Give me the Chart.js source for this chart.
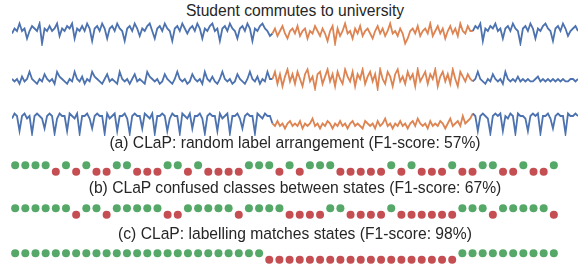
<!DOCTYPE html>
<html>
<head>
<meta charset="utf-8">
<script src="https://cdn.jsdelivr.net/npm/chart.js"></script>
<style>
  body { margin: 0; background: #fff; }
  #wrap { position: relative; width: 578px; height: 271px; overflow: hidden; font-family: "Liberation Sans", Arial, sans-serif; color: #262626; }
  .txt { position: absolute; left: 10px; width: 570px; text-align: center; font-size: 15.65px; line-height: 18px; white-space: nowrap; }
  canvas { position: absolute; }
</style>
</head>
<body>
<div id="wrap">
  <div class="txt" style="top:2px">Student commutes to university</div>
  <canvas id="line1" width="566" height="25" style="left:12px;top:21px"></canvas>
  <canvas id="line2" width="566" height="24" style="left:12px;top:67px"></canvas>
  <canvas id="line3" width="566" height="25" style="left:12px;top:111px"></canvas>
  <div class="txt" style="top:134px">(a) CLaP: random label arrangement (F1-score: 57%)</div>
  <canvas id="dotsA" width="567" height="27" style="left:1px;top:155px"></canvas>
  <div class="txt" style="top:179px">(b) CLaP confused classes between states (F1-score: 67%)</div>
  <canvas id="dotsB" width="567" height="27" style="left:1px;top:198px"></canvas>
  <div class="txt" style="top:225px">(c) CLaP: labelling matches states (F1-score: 98%)</div>
  <canvas id="dotsC" width="567" height="27" style="left:1px;top:243px"></canvas>
</div>
<script>
// couleurs (palette seaborn "deep")
const blue = '#4c72b0';
const orange = '#dd8452';
const green = '#55a868';
const red = '#c44e52';

// série 1 : marche / transport / marche
const line1Blue1 = [5,7,6,9,6, 7,3,6,8,7, 6,9,1,7,6, 8,6,7,9,4, 7,6,8,7,9,
  3,7,6,8,6, 9,7,2,7,8, 6,9,7,3,7, 8,6,9,7,6, 2,7,8,6,9,
  7,4,7,6,8, 9,6,3,7,8, 6,9,7,6,2, 7,8,6,9,7, 5,7,8,6,9,
  7,3,7,6,8, 9,6,7,2,7, 8,6,9,7,6, 3,7,8,6,9, 7,2,7,6,8, 9,7,6,4];
const line1Orange = [5,7,4,6,8,5,3,6,7,5, 8,4,6,7,3,6,5,8,6,4,
  7,5,2,6,8,1,7,4,6,9, 5,6,3,7,5,8,4,6,7,5,
  3,6,8,5,7,4,6,9,5,6, 4,7,5,1,3,6,7,5,8,4,
  6,7,5,9,4,6,8,5,7,3, 6,8,5,7,4,9,6,5,8,6];
const line1Blue2 = [6,8,7,9,2,7,6,8,7,9, 6,7,3,7,8,6,9,7,6,1,
  7,8,6,9,7,3,7,6,8,9, 7,6,2,7,8,6,9,7,4,6, 7,8,6];

// série 2
const line2Blue1 = [5,4,5,3,6, 4,5,8,5,4, 3,5,4,7,5, 4,5,3,8,6, 5,4,3,5,4,
  8,5,4,6,3, 5,4,8,6,5, 4,3,5,7,4, 5,4,3,8,5, 4,5,3,5,7,
  4,5,4,3,8, 6,5,4,5,3, 4,7,5,4,3, 5,8,5,4,5, 3,4,7,5,4,
  5,3,8,5,4, 6,4,3,5,8, 5,4,5,3,4, 7,5,4,3,5, 8,5,4,6,3, 5,4,8,5];
const line2Orange = [5,8,3,7,2,6,9,4,7,3, 8,5,2,7,9,4,6,1,7,8,
  3,6,9,4,7,2,8,5,3,9, 6,4,8,2,7,5,9,3,6,8,
  4,7,1,9,5,3,8,6,2,7, 9,4,6,3,8,5,7,2,9,4,
  6,8,3,7,5,9,2,6,8,4, 7,3,9,5,2,8,6,4,7,5];
const line2Blue2 = [4,5,8,5,4, 3,5,4,7,5, 4,5,3,8,5, 4,5,4,6,4,
  5,4,5,4,4, 5,6,4,5,4, 5,4,5,4,5, 4,5,4,4,5, 5,4,5];

// série 3
const line3Blue1 = [7,9,8,2,8, 9,7,8,1,8, 9,8,7,3,8, 9,8,1,7,9, 8,8,2,9,8,
  7,9,1,8,8, 9,7,3,8,9, 8,8,1,9,7, 8,9,2,8,8, 9,7,1,8,9,
  8,8,3,9,8, 7,9,1,8,8, 9,8,2,7,9, 8,8,1,9,8, 7,9,3,8,8,
  9,7,1,8,9, 8,8,2,9,7, 8,9,1,8,8, 9,7,3,8,9, 8,8,1,9,8, 7,9,8,8];
const line3Orange = [5,4,6,4,5,3,5,6,4,5, 4,6,3,5,4,5,7,4,5,3,
  5,4,6,5,3,5,4,6,4,5, 3,5,6,4,5,4,3,6,5,4,
  5,3,6,4,5,7,4,5,3,5, 4,6,4,5,3,5,6,4,7,5,
  4,5,3,6,4,5,4,6,5,3, 5,7,4,5,6,4,8,5,6,7];
const line3Blue2 = [9,8,2,8,9, 8,7,1,8,9, 8,9,2,8,7, 9,8,1,9,8,
  8,7,2,8,9, 8,9,1,8,8, 9,7,3,8,9, 8,8,1,9,8, 8,9,8];

// étiquettes des segments (1 = vert, 0 = rouge)
const labelsA = [1,1,1,1,0,1,0,1,0,0, 1,1,0,0,0,1,1,0,1,0, 0,0,0,1,1,1,0,1,0,1,
  1,1,0,0,0,0,0,1,0,1, 0,0,0,1,0,0,1,1,0,0, 1,0,0,1];
const labelsB = [1,1,1,1,1,1,0,1,1,0, 1,1,1,1,1,0,0,1,1,1, 1,1,0,1,1,1,1,0,0,0,
  0,1,1,0,0,0,0,1,0,0, 0,0,0,0,1,1,1,0,1,1, 1,1,1,0];
const labelsC = [1,1,1,1,1,1,1,1,1,1, 1,1,1,1,1,1,1,1,1,1, 1,1,1,1,1,0,0,0,0,0,
  0,0,0,0,0,0,0,0,0,0, 0,0,0,0,1,1,1,1,1,1, 1,1,1,1];

function baseOptions() {
    return {
        responsive: false,
        animation: false,
        events: [],
        layout: { padding: 0 },
        plugins: { legend: { display: false }, tooltip: { enabled: false } }
    };
}

// graphique de type line, avec la partie centrale en orange
function createLineChart(id, blue1, mid, blue2) {
    const values = blue1.concat(mid, blue2);
    const start = blue1.length;
    const end = blue1.length + mid.length;
    const opts = baseOptions();
    opts.scales = {
        x: { display: false },
        y: { display: false, min: 0, max: 10 }
    };
    return new Chart(document.getElementById(id), {
        type: 'line',
        data: {
            labels: values.map((v, i) => i),
            datasets: [{
                data: values,
                borderColor: blue,
                borderWidth: 1.8,
                pointRadius: 0,
                tension: 0,
                clip: 6,
                segment: {
                    borderColor: ctx => (ctx.p0DataIndex >= start && ctx.p0DataIndex < end) ? orange : blue
                }
            }]
        },
        options: opts
    });
}

// graphique de type scatter pour les rangées de points
function createDotChart(id, labels) {
    const opts = baseOptions();
    opts.scales = {
        x: { type: 'linear', display: false, min: -1, max: 54 },
        y: { display: false, min: -1, max: 2 }
    };
    return new Chart(document.getElementById(id), {
        type: 'scatter',
        data: {
            datasets: [{
                data: labels.map((v, i) => ({ x: i, y: v })),
                pointRadius: 4,
                borderWidth: 0,
                pointBackgroundColor: labels.map(v => v ? green : red),
                clip: false
            }]
        },
        options: opts
    });
}

createLineChart('line1', line1Blue1, line1Orange, line1Blue2);
createLineChart('line2', line2Blue1, line2Orange, line2Blue2);
createLineChart('line3', line3Blue1, line3Orange, line3Blue2);
createDotChart('dotsA', labelsA);
createDotChart('dotsB', labelsB);
createDotChart('dotsC', labelsC);
</script>
</body>
</html>
